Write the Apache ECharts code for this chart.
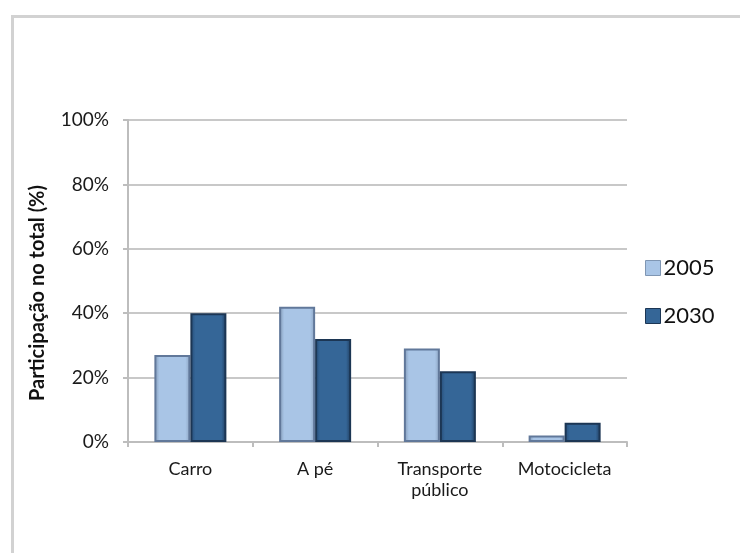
<!DOCTYPE html>
<html>
<head>
<meta charset="utf-8">
<script src="https://cdn.jsdelivr.net/npm/echarts@6/dist/echarts.min.js"></script>
<style>
  html, body { margin: 0; padding: 0; background: #fff; }
  #chart { width: 740px; height: 553px; }
</style>
</head>
<body>
<div id="chart"></div>
<script>
const categories = ['Carro', 'A pé', 'Transporte\npúblico', 'Motocicleta'];
const values2005 = [27, 42, 29, 2];
const values2030 = [40, 32, 22, 6];
const yTicks = [0, 20, 40, 60, 80, 100];

const chart = echarts.init(document.getElementById('chart'));

// bevelled look: darker edges, flat middle
const lightBar = {
  color: new echarts.graphic.LinearGradient(0, 0, 1, 0, [
    { offset: 0, color: '#7f96b3' },
    { offset: 0.14, color: '#a9c5e6' },
    { offset: 0.86, color: '#a9c5e6' },
    { offset: 1, color: '#8aa2c0' }
  ]),
  borderColor: '#61789a',
  borderWidth: 2
};

const darkBar = {
  color: new echarts.graphic.LinearGradient(0, 0, 1, 0, [
    { offset: 0, color: '#254a74' },
    { offset: 0.14, color: '#356697' },
    { offset: 0.86, color: '#356697' },
    { offset: 1, color: '#1f3c5e' }
  ]),
  borderColor: '#1c3654',
  borderWidth: 2
};

chart.setOption({
  animation: false,
  textStyle: { fontFamily: 'Lato, "Open Sans", sans-serif' },
  graphic: [{
    type: 'rect',
    left: 10,
    top: 14,
    shape: { width: 780, height: 600 },
    style: { fill: 'none', stroke: '#d2d2d2', lineWidth: 3 }
  }],
  legend: {
    orient: 'vertical',
    left: 640,
    top: 252,
    itemWidth: 15,
    itemHeight: 15,
    itemGap: 26,
    icon: 'rect',
    textStyle: { fontSize: 22, color: '#111', padding: [0, 0, 0, -2] },
    data: [
      { name: '2005', itemStyle: { color: '#a9c5e6', borderColor: '#7f96b3', borderWidth: 1 } },
      { name: '2030', itemStyle: { color: '#356697', borderColor: '#1c3654', borderWidth: 1 } }
    ]
  },
  grid: {
    left: 128,
    right: 113,
    top: 120,
    bottom: 111
  },
  xAxis: {
    type: 'category',
    data: categories,
    axisLine: { lineStyle: { color: '#bdbdbd', width: 2 } },
    axisTick: { show: true, length: 5, lineStyle: { color: '#bdbdbd', width: 2 } },
    axisLabel: { interval: 0, hideOverlap: false, fontSize: 18, color: '#1a1a1a', margin: 17, lineHeight: 21 }
  },
  yAxis: {
    type: 'value',
    min: yTicks[0],
    max: yTicks[yTicks.length - 1],
    interval: 20,
    name: 'Participação no total (%)',
    nameLocation: 'middle',
    nameGap: 80,
    nameRotate: 90,
    nameTextStyle: { fontSize: 20, fontWeight: 'bold', color: '#111', padding: [0, 24, 0, 0] },
    axisLine: { show: true, lineStyle: { color: '#bdbdbd', width: 2 } },
    axisTick: { show: true, length: 5, lineStyle: { color: '#bdbdbd', width: 2 } },
    axisLabel: { fontSize: 19, color: '#1a1a1a', margin: 19, formatter: '{value}%' },
    splitLine: { lineStyle: { color: '#c8c8c8', width: 2 } }
  },
  series: [
    {
      name: '2005',
      type: 'bar',
      data: values2005,
      barWidth: 36,
      barGap: '0%',
      itemStyle: lightBar
    },
    {
      name: '2030',
      type: 'bar',
      data: values2030,
      barWidth: 36,
      itemStyle: darkBar
    }
  ]
});
</script>
</body>
</html>
